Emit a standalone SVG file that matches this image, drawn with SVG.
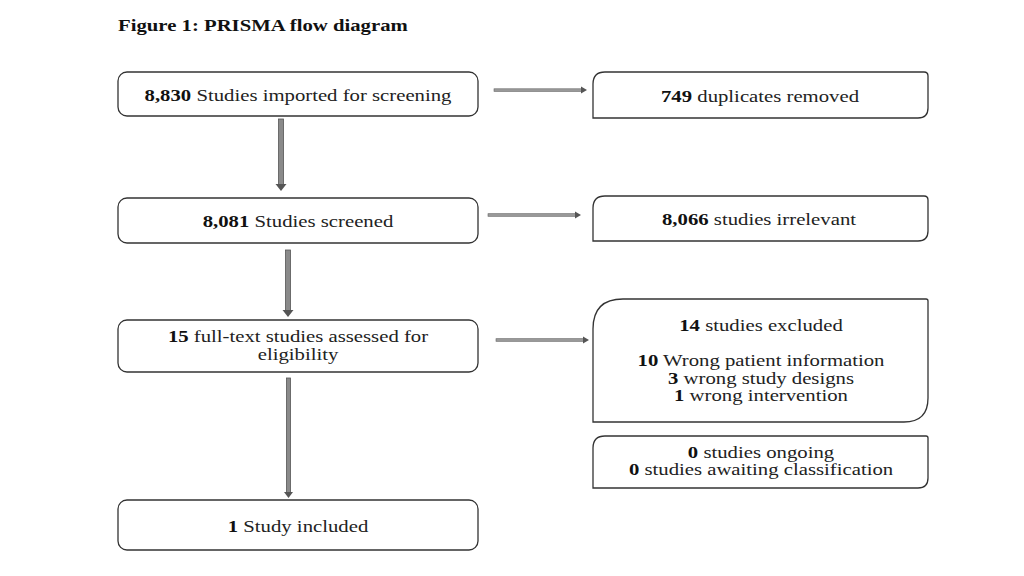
<svg xmlns="http://www.w3.org/2000/svg" width="1024" height="576" viewBox="0 0 1024 576">
<defs>
<style>
.box{fill:#fff;stroke:#333;stroke-width:1.3}
.t{font-family:"Liberation Serif","Times New Roman",serif;font-size:17px;fill:#222;text-anchor:middle}
.b{font-weight:bold;fill:#111}
.shaft{fill:#8a8a8a;stroke:#555;stroke-width:0.8}
.hshaft{fill:#999;stroke:#666;stroke-width:0.6}
.head{fill:#555}
</style>
</defs>
<rect width="1024" height="576" fill="#fff"/>
<text transform="translate(118,31) scale(1.22,1)" style="font-family:'Liberation Serif','Times New Roman',serif;font-size:17px;font-weight:bold;fill:#111">Figure 1: PRISMA flow diagram</text>

<g id="imported">
<rect class="box" x="118" y="72" width="360" height="44" rx="9"/>
<text class="t" transform="translate(298,101) scale(1.22,1)"><tspan class="b">8,830</tspan> Studies imported for screening</text>
</g>
<g id="duplicates">
<path class="box" d="M605,72 H924 Q928,72 928,76 V108 Q928,118 918,118 H593 V84 Q593,72 605,72 Z"/>
<text class="t" transform="translate(760,102) scale(1.22,1)"><tspan class="b">749</tspan> duplicates removed</text>
</g>
<g id="screened">
<rect class="box" x="118" y="198" width="360" height="45" rx="9"/>
<text class="t" transform="translate(298,227) scale(1.22,1)"><tspan class="b">8,081</tspan> Studies screened</text>
</g>
<g id="irrelevant">
<path class="box" d="M605,196 H924 Q928,196 928,200 V231 Q928,241 918,241 H593 V208 Q593,196 605,196 Z"/>
<text class="t" transform="translate(759,225) scale(1.22,1)"><tspan class="b">8,066</tspan> studies irrelevant</text>
</g>
<g id="fulltext">
<rect class="box" x="118" y="320" width="360" height="52" rx="9"/>
<text class="t" transform="translate(298,342) scale(1.22,1)"><tspan class="b">15</tspan> full-text studies assessed for</text>
<text class="t" transform="translate(298,360) scale(1.22,1)">eligibility</text>
</g>
<g id="excluded">
<path class="box" d="M623,299 H926 Q928,299 928,301 V398 Q928,422 904,422 H593 V329 Q593,299 623,299 Z"/>
<text class="t" transform="translate(761,331) scale(1.22,1)"><tspan class="b">14</tspan> studies excluded</text>
<text class="t" transform="translate(761,366) scale(1.22,1)"><tspan class="b">10</tspan> Wrong patient information</text>
<text class="t" transform="translate(761,384) scale(1.22,1)"><tspan class="b">3</tspan> wrong study designs</text>
<text class="t" transform="translate(761,401) scale(1.22,1)"><tspan class="b">1</tspan> wrong intervention</text>
</g>
<g id="ongoing">
<path class="box" d="M605,436 H926 Q928,436 928,438 V478 Q928,488 918,488 H593 V448 Q593,436 605,436 Z"/>
<text class="t" transform="translate(761,458) scale(1.22,1)"><tspan class="b">0</tspan> studies ongoing</text>
<text class="t" transform="translate(761,475) scale(1.22,1)"><tspan class="b">0</tspan> studies awaiting classification</text>
</g>
<g id="included">
<rect class="box" x="118" y="500" width="360" height="50" rx="9"/>
<text class="t" transform="translate(298,532) scale(1.22,1)"><tspan class="b">1</tspan> Study included</text>
</g>

<g id="connectors">
<rect class="shaft" x="278.5" y="119" width="5" height="66"/>
<path class="head" d="M275.5,184 L286.5,184 L281,191 Z"/>
<rect class="shaft" x="285.5" y="250" width="5" height="61"/>
<path class="head" d="M282.5,310 L293.5,310 L288,317 Z"/>
<rect class="shaft" x="286.5" y="378" width="4" height="115"/>
<path class="head" d="M284,492 L293,492 L288.5,498 Z"/>
<rect class="hshaft" x="494" y="88.8" width="88" height="2.6"/>
<path class="head" d="M581,86.5 L587,90 L581,93.5 Z"/>
<rect class="hshaft" x="488" y="213.7" width="88" height="2.6"/>
<path class="head" d="M575,211.5 L581,215 L575,218.5 Z"/>
<rect class="hshaft" x="496" y="338.7" width="88" height="2.6"/>
<path class="head" d="M583,336.5 L589,340 L583,343.5 Z"/>
</g>
</svg>
